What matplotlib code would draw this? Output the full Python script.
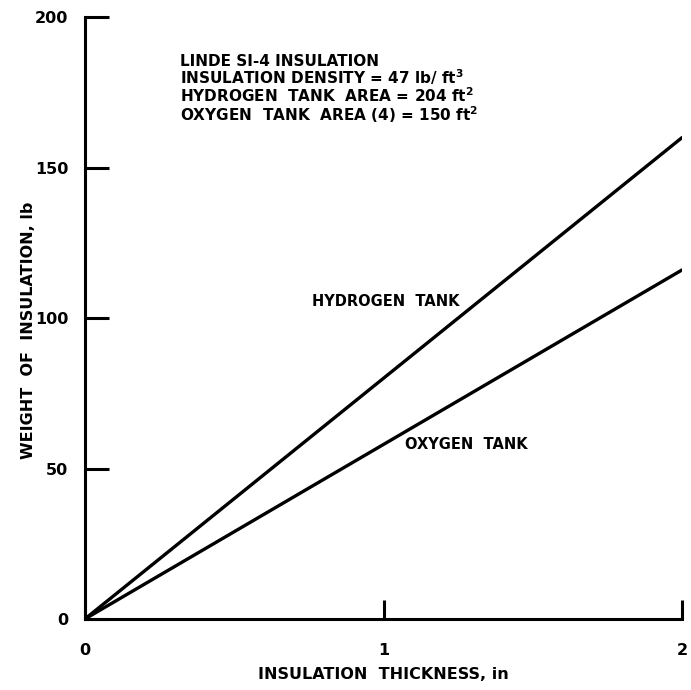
"""
Weight of insulation versus insulation thickness
"""
import matplotlib.pyplot as plt

# data
thickness = [0, 2]
hydrogen_weight = [0, 160]
oxygen_weight = [0, 116]

x_ticks = [0, 1, 2]
y_ticks = [0, 50, 100, 150, 200]

notes = [
    "LINDE SI-4 INSULATION",
    "INSULATION DENSITY = 47 lb/ ft$^{3}$",
    "HYDROGEN  TANK  AREA = 204 ft$^{2}$",
    "OXYGEN  TANK  AREA (4) = 150 ft$^{2}$",
]

plt.rcParams['font.family'] = ['DejaVu Sans']
plt.rcParams['font.weight'] = 'bold'
plt.rcParams['axes.labelweight'] = 'bold'
plt.rcParams['mathtext.default'] = 'bf'

fig = plt.figure(figsize=(6.91, 6.90), dpi=100)
ax = fig.add_axes([0.123, 0.103, 0.864, 0.872])

ax.plot(thickness, hydrogen_weight, color='black', linewidth=2.4,
        solid_capstyle='round')
ax.plot(thickness, oxygen_weight, color='black', linewidth=2.4,
        solid_capstyle='round')

ax.set_xlim(0, 2)
ax.set_ylim(0, 200)

for side in ['top', 'right']:
    ax.spines[side].set_visible(False)
for side in ['left', 'bottom']:
    ax.spines[side].set_linewidth(2.2)

ax.set_xticks(x_ticks)
ax.set_xticklabels(['0', '1', '2'], fontsize=11.5)
ax.set_yticks(y_ticks)
ax.set_yticklabels([str(v) for v in y_ticks], fontsize=11.5)

ax.tick_params(axis='both', direction='in', width=2.2)
ax.tick_params(axis='x', length=14, pad=17)
ax.tick_params(axis='y', length=17, pad=12)

ax.set_xlabel('INSULATION  THICKNESS, in', fontsize=11.5)
ax.set_ylabel('WEIGHT  OF  INSULATION, lb', fontsize=11.5)
ax.xaxis.set_label_coords(0.5, -0.0797)
ax.yaxis.set_label_coords(-0.082, 0.48)

for i, line in enumerate(notes):
    ax.text(0.159, 0.9195 - i * 0.0305, line, transform=ax.transAxes,
            fontsize=11, va='baseline', ha='left')

ax.text(0.76, 105.6, 'HYDROGEN  TANK', fontsize=10.5,
        va='center', ha='left')
ax.text(1.072, 58.1, 'OXYGEN  TANK', fontsize=10.5,
        va='center', ha='left')

plt.savefig('out.png', dpi=100)
